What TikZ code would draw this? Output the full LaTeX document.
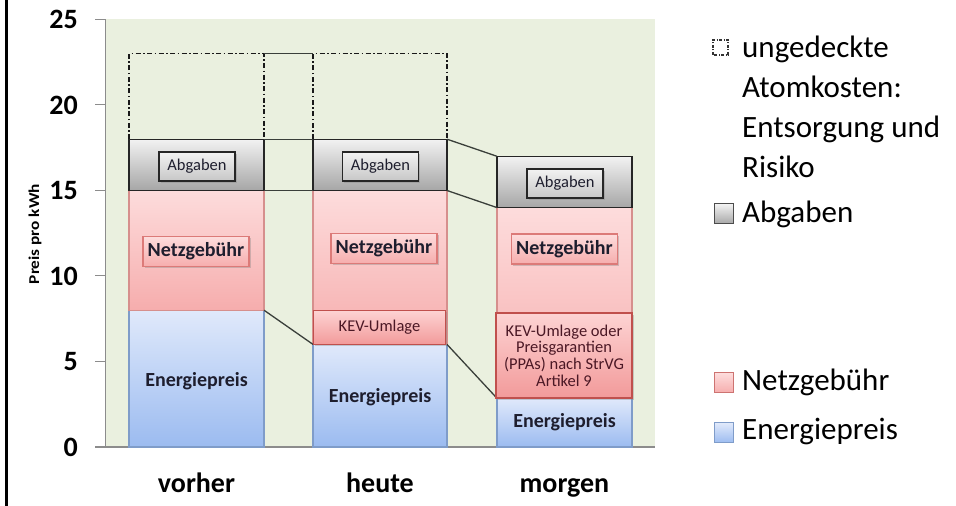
\documentclass[tikz,border=0pt]{standalone}
\usepackage{fontspec}
\setmainfont{Carlito}
\usetikzlibrary{shadows}

\definecolor{bggreen}{HTML}{EAF0DF}
\definecolor{axisgray}{HTML}{8C8C8C}
\definecolor{enTop}{HTML}{E0E9FB}
\definecolor{enBot}{HTML}{9BBBF0}
\definecolor{enLine}{HTML}{7F9CC9}
\definecolor{nzTop}{HTML}{FDDCDC}
\definecolor{nzBot}{HTML}{F6ADAD}
\definecolor{nzLine}{HTML}{D68F8D}
\definecolor{abTop}{HTML}{F2F2F2}
\definecolor{abBot}{HTML}{A6A6A6}
\definecolor{kevLine}{HTML}{C0504D}
\definecolor{kevTop}{HTML}{FDD3D3}
\definecolor{kevBot}{HTML}{F29A9A}
\definecolor{linkgray}{HTML}{3A3F3A}
\definecolor{labeltext}{HTML}{1E1E2E}

% value on the price axis -> vertical position
\pgfmathdeclarefunction{vy}{1}{\pgfmathparse{59+17.1*#1}}

\tikzset{
  energy/.style={top color=enTop, bottom color=enBot, draw=enLine, line width=1.2pt},
  netz/.style={top color=nzTop, bottom color=nzBot, draw=nzLine, line width=1.2pt},
  abg/.style={top color=abTop, bottom color=abBot, draw=black!85, line width=1.2pt},
  atom/.style={draw=black!90, line width=1.2pt, dash pattern=on 5pt off 2.5pt on 1.5pt off 2.5pt},
  link/.style={draw=linkgray, line width=1.3pt},
  ticklbl/.style={inner sep=0pt, font=\fontsize{28}{30}\selectfont\bfseries},
  catlbl/.style={inner sep=0pt, anchor=base, font=\fontsize{28}{30}\selectfont\bfseries},
  barlbl/.style={inner sep=0pt, text=labeltext, font=\fontsize{20}{22}\selectfont\bfseries},
  boxshadow/.style={drop shadow={shadow xshift=1.6pt, shadow yshift=-1.6pt, opacity=0.35}},
  abgbox/.style={boxshadow, draw=black!85, line width=1.2pt, top color=white!95!black,
    bottom color=black!22, minimum width=76pt, minimum height=29pt, inner sep=0pt,
    text=labeltext, font=\fontsize{16.5}{18}\selectfont},
  netzbox/.style={boxshadow, draw=nzLine!85!red, line width=1.2pt, top color=nzTop,
    bottom color=nzBot, minimum width=106pt, minimum height=30pt, inner sep=0pt,
    text=labeltext, font=\fontsize{20}{22}\selectfont\bfseries},
  kevbox/.style={boxshadow, draw=kevLine, line width=1.5pt, top color=kevTop,
    bottom color=kevBot, inner sep=0pt, align=center, text=labeltext!80!red,
    font=\fontsize{16.5}{16.7}\selectfont},
  legtext/.style={inner sep=0pt, anchor=west, align=left,
    font=\fontsize{31}{40}\selectfont},
}

\begin{document}
\begin{tikzpicture}[x=1pt,y=1pt]
\useasboundingbox (0,0) rectangle (956,506);
\fill[white] (0,0) rectangle (956,506);

% left rule of the slide
\draw[line width=3pt] (6,0) -- (6,506);

% plot area and axes
\fill[bggreen] (105,{vy(0)}) rectangle (655,{vy(25)});
\draw[axisgray, line width=1pt] (105,{vy(0)}) -- (105,{vy(25)});
\foreach \t in {0,5,...,25} {
  \draw[axisgray, line width=1pt] (95,{vy(\t)}) -- (105,{vy(\t)});
  \node[ticklbl, anchor=east] (tick\t) at (78,{vy(\t)}) {\t};
}
\draw[axisgray, line width=1.4pt] (95,{vy(0)}) -- (655,{vy(0)});

\node[inner sep=0pt, rotate=90, font=\fontsize{15}{16}\selectfont\bfseries]
  (ylabel) at (35,272) {\scalebox{1.15}[1]{Preis pro kWh}};

% --- vorher ---
\draw[energy] (129,{vy(0)}) rectangle (264,{vy(8)});
\draw[netz]   (129,{vy(8)}) rectangle (264,{vy(15)});
\draw[abg]    (129,{vy(15)}) rectangle (264,{vy(18)});
\draw[atom]   (129,{vy(18)}) -- (129,{vy(23)}) -- (264,{vy(23)}) -- (264,{vy(18)});

% --- heute ---
\draw[energy] (313,{vy(0)}) rectangle (447,{vy(6)});
\draw[netz]   (313,{vy(6)}) rectangle (447,{vy(15)});
\draw[abg]    (313,{vy(15)}) rectangle (447,{vy(18)});
\draw[atom]   (313,{vy(18)}) -- (313,{vy(23)}) -- (447,{vy(23)}) -- (447,{vy(18)});

% --- morgen ---
\draw[energy] (497,{vy(0)}) rectangle (632,{vy(2.85)});
\draw[netz]   (497,{vy(2.85)}) rectangle (632,{vy(14)});
\draw[abg]    (497,{vy(14)}) rectangle (632,{vy(17)});

% corner points joined between the columns
\coordinate (vAtom) at (264,{vy(23)});  \coordinate (hAtom) at (313,{vy(23)});
\coordinate (vTop)  at (264,{vy(18)});  \coordinate (hTopL) at (313,{vy(18)});
\coordinate (vNetz) at (264,{vy(15)});  \coordinate (hNetzL) at (313,{vy(15)});
\coordinate (vEn)   at (264,{vy(8)});   \coordinate (hEnL) at (313,{vy(6)});
\coordinate (hTopR) at (447,{vy(18)});  \coordinate (mTop) at (497,{vy(17)});
\coordinate (hNetzR) at (447,{vy(15)}); \coordinate (mNetz) at (497,{vy(14)});
\coordinate (hEnR)  at (447,{vy(6)});   \coordinate (mEn) at (497,{vy(2.85)});

\draw[link] (vAtom) -- (hAtom);
\draw[link] (vTop) -- (hTopL);
\draw[link] (vNetz) -- (hNetzL);
\draw[link] (vEn) -- (hEnL);
\draw[link] (hTopR) -- (mTop);
\draw[link] (hNetzR) -- (mNetz);
\draw[link] (hEnR) -- (mEn);

% boxed labels
\node[abgbox] (abgV) at (197,339.5) {Abgaben};
\node[abgbox] (abgH) at (380.5,339.5) {Abgaben};
\node[abgbox] (abgM) at (565,322.5) {Abgaben};

\node[netzbox] (netzV) at (196,254.5) {Netzgebühr};
\node[netzbox] (netzH) at (384,257.5) {Netzgebühr};
\node[netzbox] (netzM) at (564.5,257) {Netzgebühr};

\node[kevbox, minimum width=132pt, minimum height=34pt] (kevH) at (379.5,178.5) {KEV-Umlage};
\node[kevbox, minimum width=136pt, minimum height=85pt] (kevM) at (564,150.5)
  {KEV-Umlage oder\\Preisgarantien\\(PPAs) nach StrVG\\Artikel 9};

\node[barlbl] (enV) at (196.5,125) {Energiepreis};
\node[barlbl] (enH) at (380,109) {Energiepreis};
\node[barlbl] (enM) at (564.5,84) {Energiepreis};

% categories
\node[catlbl] (catV) at (196.5,13) {vorher};
\node[catlbl] (catH) at (380,13) {heute};
\node[catlbl] (catM) at (564.5,13) {morgen};

% legend
\draw[black!80, line width=1.2pt, dash pattern=on 3pt off 1.5pt on 1pt off 1.5pt]
  (713,451) rectangle (728,466);
\node[legtext, anchor=north west] (legAtom) at (742,470)
  {ungedeckte\\Atomkosten:\\Entsorgung und\\Risiko};
\draw[black!70, line width=1pt, top color=abTop, bottom color=abBot] (714,282) rectangle (733,302);
\node[legtext] (legAbg) at (742,292) {Abgaben};
\draw[kevLine!80, line width=1pt, top color=nzTop, bottom color=nzBot] (714,113) rectangle (733,133);
\node[legtext] (legNetz) at (742,124) {Netzgebühr};
\draw[enLine, line width=1pt, top color=enTop, bottom color=enBot] (714,63) rectangle (733,83);
\node[legtext] (legEn) at (742,74) {Energiepreis};
\end{tikzpicture}
\end{document}
